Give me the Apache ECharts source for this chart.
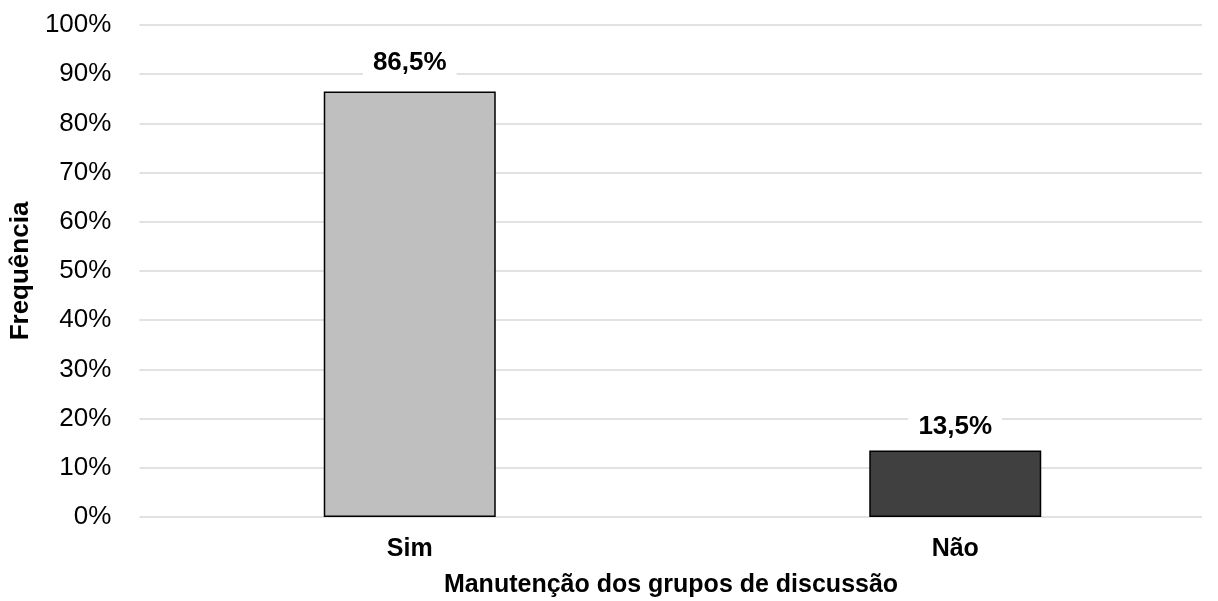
<!DOCTYPE html>
<html>
<head>
<meta charset="utf-8">
<script src="https://cdn.jsdelivr.net/npm/echarts@6/dist/echarts.min.js"></script>
<style>
  html, body { margin: 0; padding: 0; background: #fff; }
  #chart { width: 1218px; height: 601px; }
</style>
</head>
<body>
<div id="chart"></div>
<script>
// Respostas: manutenção dos grupos de discussão
const categories = ['Sim', 'Não'];
const values = [86.5, 13.5];
const barColors = ['#bfbfbf', '#404040'];
const yTicks = [0, 10, 20, 30, 40, 50, 60, 70, 80, 90, 100];

const FONT = '"Liberation Sans", Arial, sans-serif';

const chart = echarts.init(document.getElementById('chart'), null, { renderer: 'canvas' });

chart.setOption({
  animation: false,
  textStyle: { fontFamily: FONT },
  title: {
    text: 'Manutenção dos grupos de discussão',
    left: 666, top: 568, textAlign: 'center',
    textStyle: { fontFamily: FONT, fontSize: 25, fontWeight: 'bold', color: '#000' }
  },
  grid: [
    // grade com linhas de referência e rótulos de percentual
    { left: 137, right: 16, top: 25, bottom: 84 },
    // grade das barras (faixas de categoria mais largas que a área visível)
    { left: 137, width: 1091, top: 25, bottom: 84, outerBoundsMode: 'none' }
  ],
  xAxis: [
    { gridIndex: 0, type: 'category', data: categories, show: false },
    {
      gridIndex: 1, type: 'category', data: categories,
      axisLine: { show: false }, axisTick: { show: false },
      axisLabel: { fontFamily: FONT, fontSize: 25, fontWeight: 'bold', color: '#000', margin: 20 }
    }
  ],
  yAxis: [
    {
      gridIndex: 0, type: 'value', min: 0, max: 100, interval: 10,
      name: 'Frequência', nameLocation: 'middle', nameGap: 104, nameRotate: 90,
      nameTextStyle: { fontFamily: FONT, fontSize: 26, fontWeight: 'bold', color: '#000' },
      axisLine: { show: false }, axisTick: { show: false },
      axisLabel: {
        fontFamily: FONT, fontSize: 26, color: '#000', margin: 28,
        formatter: v => (yTicks.includes(v) ? v + '%' : '')
      },
      splitLine: { lineStyle: { color: '#d9d9d9', width: 1.5 } }
    },
    { gridIndex: 1, type: 'value', min: 0, max: 100, interval: 10, show: false }
  ],
  series: [{
    type: 'bar',
    xAxisIndex: 1, yAxisIndex: 1,
    barWidth: 172,
    data: values.map((v, i) => ({
      value: v,
      itemStyle: { color: barColors[i], borderColor: '#000', borderWidth: 1.5 },
      label: { distance: i === 0 ? 12 : 7 }
    })),
    label: {
      show: true, position: 'top', distance: 12,
      fontFamily: FONT, fontSize: 26, fontWeight: 'bold', color: '#000',
      backgroundColor: '#fff', padding: [4, 10],
      formatter: p => p.value.toFixed(1).replace('.', ',') + '%'
    },
    z: 3
  }]
});
</script>
</body>
</html>
